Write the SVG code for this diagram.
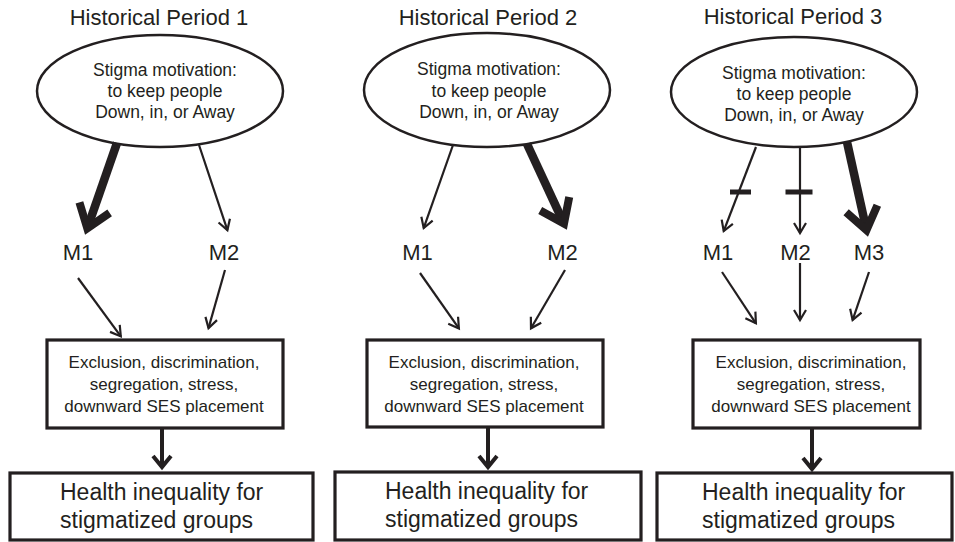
<svg xmlns="http://www.w3.org/2000/svg" width="955" height="542" viewBox="0 0 955 542">
<style>
text{font-family:"Liberation Sans",Arial,sans-serif;fill:#231f20}
.title{font-size:22px;text-anchor:middle}
.ell{font-size:17.5px;text-anchor:middle}
.m{font-size:22px;text-anchor:middle}
.box{font-size:17px;text-anchor:middle}
.out{font-size:23px}
ellipse{fill:#fff;stroke:#231f20;stroke-width:2.5}
.node{fill:#fff;stroke:#231f20;stroke-width:3.2}
.thin{stroke:#231f20;stroke-width:2.2;fill:none;marker-end:url(#hThin)}
.thick{stroke:#231f20;stroke-width:8.5;fill:none;marker-end:url(#hThick)}
.mid{stroke:#231f20;stroke-width:4;fill:none;marker-end:url(#hMid)}
.bar{fill:#231f20;stroke:none}
</style>
<defs>
<marker id="hThin" markerUnits="userSpaceOnUse" orient="auto" refX="0" refY="0" markerWidth="30" markerHeight="30" overflow="visible">
<path d="M-10,-6 L0,0 L-10,6" fill="none" stroke="#231f20" stroke-width="2.2" stroke-linejoin="miter"/>
</marker>
<marker id="hThick" markerUnits="userSpaceOnUse" orient="auto" refX="0" refY="0" markerWidth="60" markerHeight="60" overflow="visible">
<path d="M-22,-16 L0,0 L-22,16" fill="none" stroke="#231f20" stroke-width="8" stroke-linejoin="miter"/>
</marker>
<marker id="hMid" markerUnits="userSpaceOnUse" orient="auto" refX="0" refY="0" markerWidth="40" markerHeight="40" overflow="visible">
<path d="M-11,-9 L0,0 L-11,9" fill="none" stroke="#231f20" stroke-width="4" stroke-linejoin="miter"/>
</marker>
</defs>

<!-- Titles -->
<g id="title1"><text class="title" x="159" y="25">Historical Period 1</text></g>
<g id="title2"><text class="title" x="488" y="25">Historical Period 2</text></g>
<g id="title3"><text class="title" x="793" y="24">Historical Period 3</text></g>

<!-- Panel 1 -->
<g id="p1-stigma">
<ellipse cx="160" cy="91" rx="123" ry="56"/>
<text class="ell" x="165" y="76">Stigma motivation:</text>
<text class="ell" x="165" y="97">to keep people</text>
<text class="ell" x="165" y="118">Down, in, or Away</text>
</g>
<g id="p1-m1"><text class="m" x="78" y="260">M1</text></g>
<g id="p1-m2"><text class="m" x="224" y="260">M2</text></g>
<g id="p1-mech">
<rect class="node" x="47" y="340" width="236" height="88"/>
<text class="box" x="164" y="368">Exclusion, discrimination,</text>
<text class="box" x="164" y="390">segregation, stress,</text>
<text class="box" x="164" y="412">downward SES placement</text>
</g>
<g id="p1-health">
<rect class="node" x="10" y="473" width="303" height="67"/>
<text class="out" x="60" y="500">Health inequality for</text>
<text class="out" x="60" y="528">stigmatized groups</text>
</g>

<!-- Panel 2 -->
<g id="p2-stigma">
<ellipse cx="487" cy="90" rx="123" ry="57"/>
<text class="ell" x="489" y="75">Stigma motivation:</text>
<text class="ell" x="489" y="97">to keep people</text>
<text class="ell" x="489" y="118">Down, in, or Away</text>
</g>
<g id="p2-m1"><text class="m" x="417.5" y="260">M1</text></g>
<g id="p2-m2"><text class="m" x="562.5" y="260">M2</text></g>
<g id="p2-mech">
<rect class="node" x="367" y="340" width="236" height="87"/>
<text class="box" x="484" y="368">Exclusion, discrimination,</text>
<text class="box" x="484" y="390">segregation, stress,</text>
<text class="box" x="484" y="412">downward SES placement</text>
</g>
<g id="p2-health">
<rect class="node" x="335" y="472" width="306" height="68"/>
<text class="out" x="385" y="499">Health inequality for</text>
<text class="out" x="385" y="527">stigmatized groups</text>
</g>

<!-- Panel 3 -->
<g id="p3-stigma">
<ellipse cx="794" cy="92" rx="123" ry="55"/>
<text class="ell" x="794" y="79">Stigma motivation:</text>
<text class="ell" x="794" y="100">to keep people</text>
<text class="ell" x="794" y="121">Down, in, or Away</text>
</g>
<g id="p3-m1"><text class="m" x="718" y="260">M1</text></g>
<g id="p3-m2"><text class="m" x="795.5" y="260">M2</text></g>
<g id="p3-m3"><text class="m" x="869" y="260">M3</text></g>
<g id="p3-mech">
<rect class="node" x="693" y="340" width="227" height="88"/>
<text class="box" x="811" y="368">Exclusion, discrimination,</text>
<text class="box" x="811" y="390">segregation, stress,</text>
<text class="box" x="811" y="412">downward SES placement</text>
</g>
<g id="p3-health">
<rect class="node" x="657" y="473" width="295" height="67"/>
<text class="out" x="702" y="500">Health inequality for</text>
<text class="out" x="702" y="528">stigmatized groups</text>
</g>

<!-- Connectors -->
<g id="connectors">
<!-- panel 1 -->
<line class="thick" x1="117" y1="143" x2="87.3" y2="228.4"/>
<line class="thin" x1="199" y1="145" x2="227.4" y2="230.1"/>
<line class="thin" x1="78" y1="278" x2="120.8" y2="336.4"/>
<line class="thin" x1="225" y1="270" x2="208.5" y2="328.1"/>
<line class="mid" x1="162" y1="428" x2="162" y2="467"/>
<!-- panel 2 -->
<line class="thin" x1="453" y1="145" x2="423.7" y2="228.1"/>
<line class="thick" x1="527" y1="144" x2="564" y2="223.6"/>
<line class="thin" x1="420" y1="273" x2="458.9" y2="328.4"/>
<line class="thin" x1="565" y1="270" x2="531" y2="328.3"/>
<line class="mid" x1="488" y1="427" x2="488" y2="467"/>
<!-- panel 3 -->
<line class="thin" x1="756" y1="147" x2="723.7" y2="231.1"/>
<rect class="bar" x="730" y="189.5" width="21" height="5"/>
<line class="thin" x1="800" y1="147" x2="800" y2="233"/>
<rect class="bar" x="785.5" y="189.5" width="27" height="5"/>
<line class="thick" x1="847" y1="142" x2="866.5" y2="230.2"/>
<line class="thin" x1="722" y1="272" x2="755.9" y2="323.3"/>
<line class="thin" x1="800" y1="263" x2="800" y2="320"/>
<line class="thin" x1="869" y1="272" x2="852.6" y2="320.1"/>
<line class="mid" x1="812" y1="428" x2="812" y2="469"/>
</g>
</svg>
